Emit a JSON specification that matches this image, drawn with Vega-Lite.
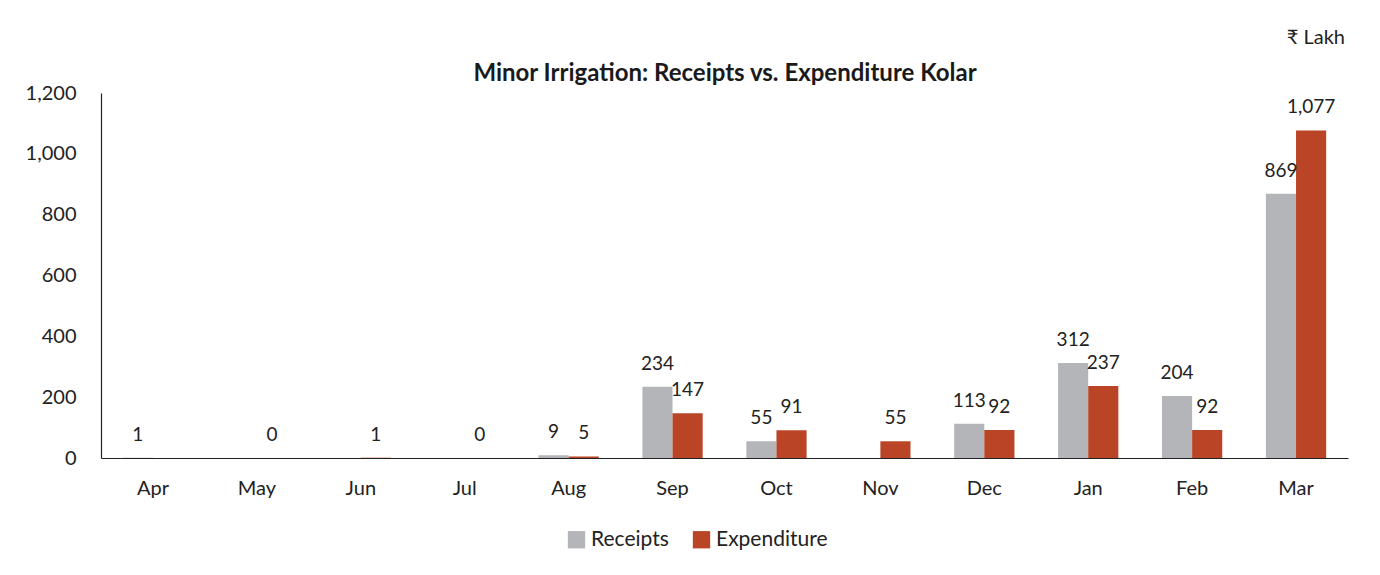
{
  "$schema": "https://vega.github.io/schema/vega-lite/v6.json",
  "width": 1247,
  "height": 365,
  "padding": {"left": 25, "top": 28, "right": 25, "bottom": 5},
  "background": "white",
  "config": {
    "font": "Lato",
    "view": {"stroke": null},
    "axis": {"labelFont": "Lato", "labelColor": "#222222", "titleFont": "Lato", "grid": false, "ticks": false},
    "legend": {"labelFont": "Lato"}
  },
  "title": {
    "text": "₹ Lakh",
    "fontSize": 20,
    "fontWeight": "normal",
    "color": "#222222",
    "anchor": "end",
    "frame": "group",
    "offset": 13,
    "dx": -3
  },
  "data": {
    "values": [
      {"month": "Apr", "series": "Receipts", "value": 1},
      {"month": "Apr", "series": "Expenditure", "value": null},
      {"month": "May", "series": "Receipts", "value": null},
      {"month": "May", "series": "Expenditure", "value": 0},
      {"month": "Jun", "series": "Receipts", "value": null},
      {"month": "Jun", "series": "Expenditure", "value": 1},
      {"month": "Jul", "series": "Receipts", "value": null},
      {"month": "Jul", "series": "Expenditure", "value": 0},
      {"month": "Aug", "series": "Receipts", "value": 9},
      {"month": "Aug", "series": "Expenditure", "value": 5},
      {"month": "Sep", "series": "Receipts", "value": 234},
      {"month": "Sep", "series": "Expenditure", "value": 147},
      {"month": "Oct", "series": "Receipts", "value": 55},
      {"month": "Oct", "series": "Expenditure", "value": 91},
      {"month": "Nov", "series": "Receipts", "value": null},
      {"month": "Nov", "series": "Expenditure", "value": 55},
      {"month": "Dec", "series": "Receipts", "value": 113},
      {"month": "Dec", "series": "Expenditure", "value": 92},
      {"month": "Jan", "series": "Receipts", "value": 312},
      {"month": "Jan", "series": "Expenditure", "value": 237},
      {"month": "Feb", "series": "Receipts", "value": 204},
      {"month": "Feb", "series": "Expenditure", "value": 92},
      {"month": "Mar", "series": "Receipts", "value": 869},
      {"month": "Mar", "series": "Expenditure", "value": 1077}
    ]
  },
  "encoding": {
    "xOffset": {"field": "series", "type": "nominal", "sort": ["Receipts", "Expenditure"]},
    "y": {
      "field": "value",
      "type": "quantitative",
      "scale": {"domain": [0, 1200], "nice": false}
    }
  },
  "layer": [
    {
      "mark": {"type": "bar"},
      "encoding": {
        "x": {
          "field": "month",
          "type": "nominal",
          "sort": ["Apr", "May", "Jun", "Jul", "Aug", "Sep", "Oct", "Nov", "Dec", "Jan", "Feb", "Mar"],
          "scale": {"paddingInner": 0.42, "paddingOuter": 0.21},
          "axis": {"orient": "bottom", "title": null, "labelAngle": 0, "labelFontSize": 20, "labelPadding": 20, "domainColor": "#222222", "domainWidth": 1.2}
        },
        "y": {
          "field": "value",
          "type": "quantitative",
          "axis": {"title": null, "values": [0, 200, 400, 600, 800, 1000, 1200], "format": ",d", "labelFontSize": 20, "labelPadding": 25, "domainColor": "#222222", "domainWidth": 1.2}
        },
        "color": {
          "field": "series",
          "type": "nominal",
          "sort": ["Receipts", "Expenditure"],
          "scale": {"domain": ["Receipts", "Expenditure"], "range": ["#b4b5b8", "#b94426"]},
          "legend": {"title": null, "orient": "none", "legendX": 465, "legendY": 436, "direction": "horizontal", "symbolType": "square", "symbolSize": 300, "symbolStrokeWidth": 0, "labelFontSize": 21, "labelColor": "#222222", "columnPadding": 22}
        }
      }
    },
    {
      "mark": {"type": "text", "baseline": "bottom", "dy": -13, "fontSize": 19, "color": "#222222"},
      "encoding": {
        "x": {
          "field": "month",
          "type": "nominal",
          "sort": ["Apr", "May", "Jun", "Jul", "Aug", "Sep", "Oct", "Nov", "Dec", "Jan", "Feb", "Mar"],
          "axis": {"orient": "top", "labels": false, "domain": false, "ticks": false, "title": "Minor Irrigation: Receipts vs. Expenditure Kolar", "titleFontSize": 24, "titleFontWeight": "bold", "titleColor": "#1a1a1a", "titlePadding": 8}
        },
        "y": {"field": "value", "type": "quantitative", "axis": null},
        "text": {"field": "value", "type": "quantitative", "format": ","}
      }
    }
  ],
  "resolve": {"axis": {"x": "independent", "y": "independent"}}
}
